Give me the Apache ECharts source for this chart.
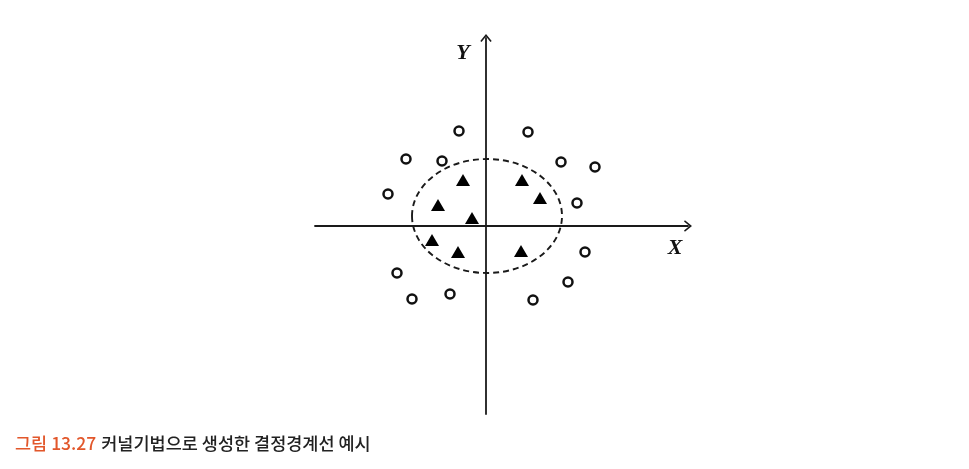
<!DOCTYPE html>
<html>
<head>
<meta charset="utf-8">
<script src="https://cdn.jsdelivr.net/npm/echarts@6/dist/echarts.min.js"></script>
<style>html,body{margin:0;padding:0;background:#fff;}#c{width:969px;height:469px;}</style>
</head>
<body>
<div id="c"></div>
<script>
// Data (axis units)
const circlePoints = [
  [-2.7, 9.5], [4.2, 9.4], [-8.0, 6.7], [-4.4, 6.5], [7.5, 6.4], [10.9, 5.9],
  [-9.8, 3.2], [9.1, 2.3], [9.9, -2.6], [-8.9, -4.7], [8.2, -5.6],
  [-7.4, -7.3], [-3.6, -6.8], [4.7, -7.4]
];
const trianglePoints = [
  [-2.3, 4.6], [3.6, 4.6], [-4.8, 2.1], [5.4, 2.8], [-1.4, 0.8],
  [-5.4, -1.4], [-2.8, -2.6], [3.5, -2.5]
];
// decision boundary ellipse: [centerX, centerY, radiusX, radiusY]
const boundary = [[0.1, 1.0, 7.5, 5.7]];
const xRange = [-17.1, 20.2];
const yRange = [-18.8, 18.8];
const axisNames = ['X', 'Y'];
const captionLabel = '그림 13.27';
const captionText = '커널기법으로 생성한 결정경계선 예시';

const chart = echarts.init(document.getElementById('c'));
const arrowPath = 'path://M5,0 L10,6.2 L8.9,7 L5,2.2 L1.1,7 L0,6.2 Z';
const axisCommon = {
  axisLine: { onZero: true, symbol: ['none', arrowPath], symbolSize: [12, 8], lineStyle: { color: '#1a1a1a', width: 1.8 } },
  axisTick: { show: false },
  axisLabel: { show: false },
  splitLine: { show: false }
};
chart.setOption({
  animation: false,
  backgroundColor: '#fff',
  title: {
    left: 10, top: 429,
    text: '{a|' + captionLabel + '} {b|' + captionText + '}',
    textStyle: {
      rich: {
        a: { fontFamily: 'Noto Sans CJK KR', fontSize: 17.5, color: '#e2572b', fontWeight: 500 },
        b: { fontFamily: 'Noto Sans CJK KR', fontSize: 17.5, color: '#222', fontWeight: 500 }
      }
    }
  },
  grid: { left: 315, right: 969 - 688, top: 38, bottom: 469 - 414 },
  xAxis: Object.assign({ type: 'value', min: xRange[0], max: xRange[1] }, axisCommon),
  yAxis: Object.assign({ type: 'value', min: yRange[0], max: yRange[1] }, axisCommon),
  series: [
    {
      type: 'custom',
      data: boundary,
      renderItem: function (params, api) {
        const c = api.coord([api.value(0), api.value(1)]);
        const s = api.size([api.value(2), api.value(3)]);
        return {
          type: 'ellipse',
          shape: { cx: c[0], cy: c[1], rx: s[0], ry: s[1] },
          style: { fill: null, stroke: '#1a1a1a', lineWidth: 1.9, lineDash: [6, 4] }
        };
      },
      z: 1
    },
    {
      type: 'scatter',
      data: circlePoints,
      symbol: 'circle',
      symbolSize: 9,
      itemStyle: { color: '#fff', borderColor: '#111', borderWidth: 2.5, opacity: 1 },
      z: 3
    },
    {
      type: 'scatter',
      data: trianglePoints,
      symbol: 'triangle',
      symbolSize: [14, 12],
      itemStyle: { color: '#000', opacity: 1 },
      z: 3
    }
  ]
});

// Axis name labels positioned relative to axis ends
const xEnd = chart.convertToPixel({ gridIndex: 0 }, [xRange[1], 0]);
const yEnd = chart.convertToPixel({ gridIndex: 0 }, [0, yRange[1]]);
chart.setOption({
  graphic: [
    { type: 'text', x: xEnd[0] - 13, y: xEnd[1] + 22, style: { text: axisNames[0], font: 'italic bold 22px "Liberation Serif"', fill: '#111', align: 'center', verticalAlign: 'middle' } },
    { type: 'text', x: yEnd[0] - 23, y: yEnd[1] + 15, style: { text: axisNames[1], font: 'italic bold 22px "Liberation Serif"', fill: '#111', align: 'center', verticalAlign: 'middle' } }
  ]
});
</script>
</body>
</html>
